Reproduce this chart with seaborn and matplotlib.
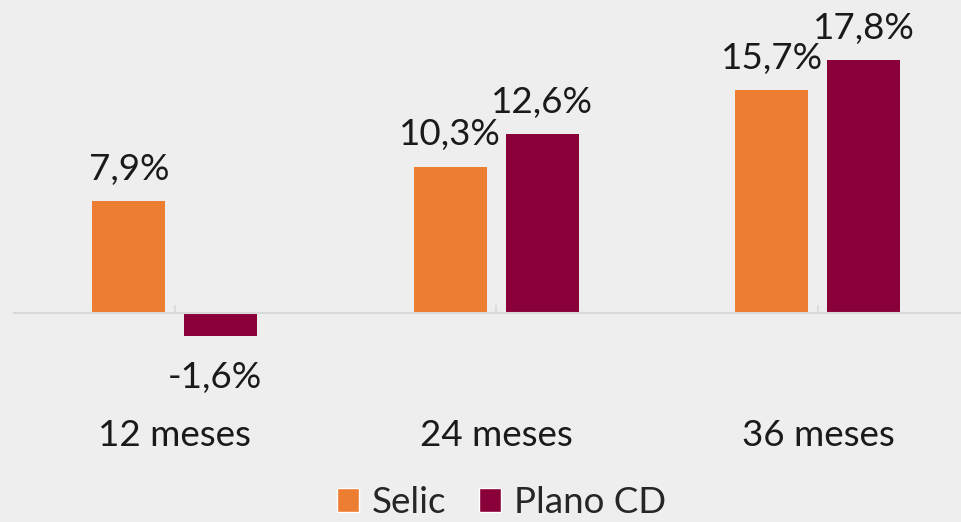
import matplotlib
matplotlib.use("Agg")
import matplotlib.pyplot as plt
import seaborn as sns
import pandas as pd
from matplotlib.patches import Patch

periods = ["12 meses", "24 meses", "36 meses"]
series = ["Selic", "Plano CD"]
selic = [7.9, 10.3, 15.7]
plano_cd = [-1.6, 12.6, 17.8]
colors = ["#ED7D31", "#8A0038"]

df = pd.DataFrame({
    "periodo": periods * 2,
    "serie": [series[0]] * 3 + [series[1]] * 3,
    "valor": selic + plano_cd,
})

sns.set_style("white")
plt.rcParams["font.family"] = ["Lato", "DejaVu Sans"]
bg = "#EEEEEE"
fs = 26.5

fig = plt.figure(figsize=(9.61, 5.22), dpi=100, facecolor=bg)
# axes: left at px 14, right at figure edge, top at px 0, bottom at px 400
ax = fig.add_axes([14 / 961, 1 - 400 / 522, 947 / 961, 400 / 522])
ax.set_facecolor(bg)

sns.barplot(data=df, x="periodo", y="valor", hue="serie", palette=colors,
            saturation=1, width=0.572, gap=0.206, linewidth=0, ax=ax, legend=False)

ax.set_xlim(-0.5, 2.445)
ax.set_ylim(-(400 - 313) / 14.2, 313 / 14.2)

for c in ax.containers:
    texts = ax.bar_label(c, labels=[f"{v:.1f}%".replace(".", ",") for v in c.datavalues],
                         padding=11, fontsize=fs, color="#1a1a1a")
    # negative labels sit a bit lower in the original
    for t, v in zip(texts, c.datavalues):
        if v < 0:
            t.xyann = (-4, -18)

for s in ["top", "left", "right"]:
    ax.spines[s].set_visible(False)
ax.spines["bottom"].set_position(("data", 0))
ax.spines["bottom"].set_color("#D9D9D9")
ax.spines["bottom"].set_linewidth(1.5)
ax.tick_params(axis="x", bottom=True, direction="in", length=6, width=1.2,
               color="#D9D9D9", labelbottom=False)
ax.set_yticks([])
ax.set_xlabel("")
ax.set_ylabel("")

for i, p in enumerate(periods):
    ax.text(i, -0.09, p, transform=ax.get_xaxis_transform(), ha="center",
            va="center", fontsize=fs, color="#1a1a1a")

handles = [Patch(facecolor=colors[i], label=series[i]) for i in range(2)]
fig.legend(handles=handles, loc="lower center", bbox_to_anchor=(0.522, -0.058),
           ncol=2, frameon=False, fontsize=fs, handlelength=0.6, handleheight=0.6,
           handletextpad=0.35, columnspacing=0.9)

fig.savefig("out.png", dpi=100, facecolor=bg)
